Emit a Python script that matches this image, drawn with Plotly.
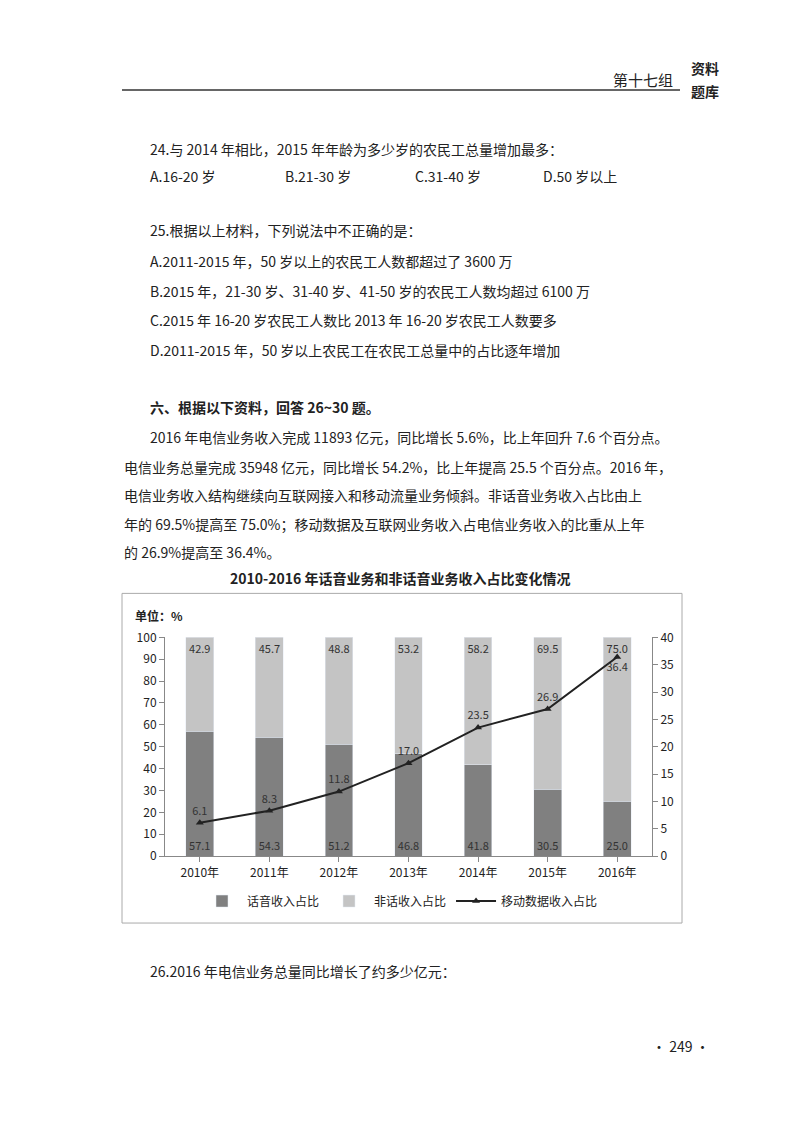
import plotly.graph_objects as go

W, H = 800, 1130

years = ["2010年", "2011年", "2012年", "2013年", "2014年", "2015年", "2016年"]
voice_share = [57.1, 54.3, 51.2, 46.8, 41.8, 30.5, 25.0]
nonvoice_share = [42.9, 45.7, 48.8, 53.2, 58.2, 69.5, 75.0]
mobile_share = [6.1, 8.3, 11.8, 17.0, 23.5, 26.9, 36.4]

FONT = "Noto Sans CJK SC"
TXT = "#222"


# page coordinates -> paper fractions (corrected for the page offset seen in the render)
def px(x):
    return (x - 8) / W


def py(y):
    return 1 - ((y - 16) / 0.986) / H


fig = go.Figure()
fig.add_trace(go.Bar(
    x=years, y=voice_share, name="话音收入占比", marker_color="#808080",
    text=[f"{v:.1f}" for v in voice_share], textposition="inside",
    insidetextanchor="start", textfont=dict(size=11, color="#333"),
    width=0.4, yaxis="y",
))
fig.add_trace(go.Bar(
    x=years, y=nonvoice_share, name="非话收入占比", marker_color="#c4c4c4",
    text=[f"{v:.1f}" for v in nonvoice_share], textposition="inside",
    insidetextanchor="end", textfont=dict(size=11, color="#333"),
    width=0.4, yaxis="y",
))
fig.add_trace(go.Scatter(
    x=years, y=mobile_share, name="移动数据收入占比", yaxis="y2",
    mode="lines+markers+text", line=dict(color="#222", width=2),
    marker=dict(symbol="triangle-up", size=7, color="#222"),
    text=[f"{v:.1f}" for v in mobile_share],
    textposition=["top center"] * 6 + ["bottom center"],
    textfont=dict(size=11, color="#333"),
))

fig.update_layout(
    width=W, height=H, margin=dict(l=0, r=0, t=0, b=0),
    paper_bgcolor="white", plot_bgcolor="white",
    font=dict(family=FONT, color=TXT),
    barmode="stack", bargap=0.6,
    xaxis=dict(domain=[px(165), px(652)], showline=True, linecolor="#888",
               ticks="outside", tickcolor="#888", tickfont=dict(size=12)),
    yaxis=dict(domain=[py(855), py(636)], range=[0, 100], dtick=10,
               showgrid=False, showline=True, linecolor="#888",
               ticks="outside", tickcolor="#888", tickfont=dict(size=12), zeroline=False),
    yaxis2=dict(overlaying="y", side="right", range=[0, 40], dtick=5,
                showgrid=False, showline=True, linecolor="#888",
                ticks="outside", tickcolor="#888", tickfont=dict(size=12), zeroline=False),
    legend=dict(orientation="h", x=px(400), xanchor="center", y=py(900), yanchor="middle",
                font=dict(size=12), traceorder="normal", itemwidth=40),
    showlegend=True,
)

shapes = [
    dict(type="line", xref="paper", yref="paper", x0=px(122), x1=px(680), y0=py(88), y1=py(88),
         line=dict(color="#333", width=1.5)),
    dict(type="rect", xref="paper", yref="paper", x0=px(122), x1=px(682), y0=py(592), y1=py(922),
         line=dict(color="#aaa", width=1)),
]
fig.update_layout(shapes=shapes)

lines = [
    (148, 147, "24.与 2014 年相比，2015 年年龄为多少岁的农民工总量增加最多：", False),
    (148, 174, "A.16-20 岁", False),
    (283, 174, "B.21-30 岁", False),
    (413, 174, "C.31-40 岁", False),
    (541, 174, "D.50 岁以上", False),
    (148, 228, "25.根据以上材料，下列说法中不正确的是：", False),
    (148, 259, "A.2011-2015 年，50 岁以上的农民工人数都超过了 3600 万", False),
    (148, 289, "B.2015 年，21-30 岁、31-40 岁、41-50 岁的农民工人数均超过 6100 万", False),
    (148, 318, "C.2015 年 16-20 岁农民工人数比 2013 年 16-20 岁农民工人数要多", False),
    (148, 348, "D.2011-2015 年，50 岁以上农民工在农民工总量中的占比逐年增加", False),
    (148, 405, "六、根据以下资料，回答 26~30 题。", True),
    (148, 435, "2016 年电信业务收入完成 11893 亿元，同比增长 5.6%，比上年回升 7.6 个百分点。", False),
    (122, 465, "电信业务总量完成 35948 亿元，同比增长 54.2%，比上年提高 25.5 个百分点。2016 年，", False),
    (122, 494, "电信业务收入结构继续向互联网接入和移动流量业务倾斜。非话音业务收入占比由上", False),
    (122, 523, "年的 69.5%提高至 75.0%；移动数据及互联网业务收入占电信业务收入的比重从上年", False),
    (122, 551, "的 26.9%提高至 36.4%。", False),
    (148, 970, "26.2016 年电信业务总量同比增长了约多少亿元：", False),
    (650, 1045, "• 249 •", False),
    (133, 614, "单位：%", True),
]
annotations = []
for x, y, t, bold in lines:
    annotations.append(dict(
        xref="paper", yref="paper", x=px(x), y=py(y), xanchor="left", yanchor="middle",
        text=f"<b>{t}</b>" if bold else t, showarrow=False,
        font=dict(size=12 if t == "单位：%" else 14, color=TXT, family=FONT),
    ))
annotations += [
    dict(xref="paper", yref="paper", x=px(400), y=py(577), xanchor="center", yanchor="middle",
         text="<b>2010-2016 年话音业务和非话音业务收入占比变化情况</b>", showarrow=False,
         font=dict(size=14, color=TXT, family=FONT)),
    dict(xref="paper", yref="paper", x=px(675), y=py(78), xanchor="right", yanchor="middle",
         text="第十七组", showarrow=False, font=dict(size=15, color=TXT, family=FONT)),
    dict(xref="paper", yref="paper", x=px(705), y=py(66), xanchor="center", yanchor="middle",
         text="<b>资料</b>", showarrow=False, font=dict(size=14, color=TXT, family=FONT)),
    dict(xref="paper", yref="paper", x=px(705), y=py(89), xanchor="center", yanchor="middle",
         text="<b>题库</b>", showarrow=False, font=dict(size=14, color=TXT, family=FONT)),
]
fig.update_layout(annotations=annotations)

fig.write_html("out.html")
